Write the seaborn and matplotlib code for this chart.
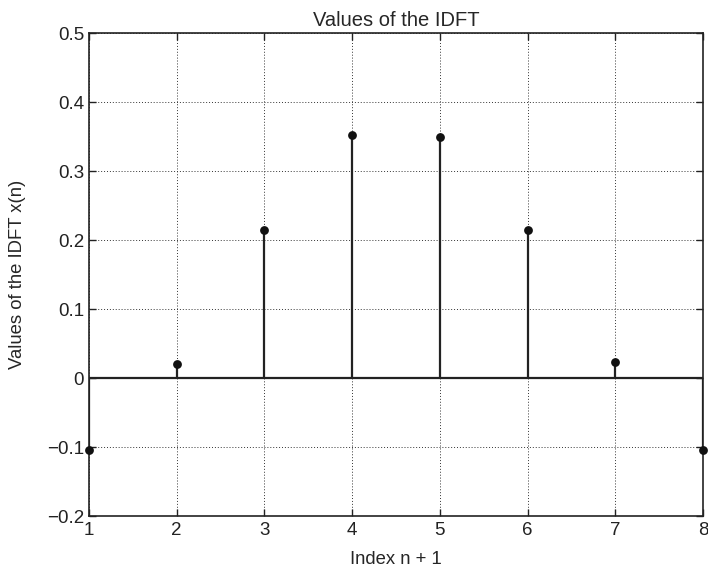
import numpy as np
import pandas as pd
import matplotlib
matplotlib.use("Agg")
import matplotlib.pyplot as plt
import seaborn as sns

# values
index = [1, 2, 3, 4, 5, 6, 7, 8]
idft_values = [-0.104, 0.021, 0.215, 0.353, 0.349, 0.215, 0.024, -0.104]
y_ticks = [-0.2, -0.1, 0, 0.1, 0.2, 0.3, 0.4, 0.5]
y_tick_labels = ["\u22120.2", "\u22120.1", "0", "0.1", "0.2", "0.3", "0.4", "0.5"]

df = pd.DataFrame({"n": index, "x": idft_values})

sns.set_style("ticks")
plt.rcParams["font.family"] = ["Liberation Sans", "DejaVu Sans"]
plt.rcParams["xtick.direction"] = "in"
plt.rcParams["ytick.direction"] = "in"

fig = plt.figure(figsize=(7.08, 5.71), dpi=100)
ax = fig.add_axes([0.1257, 0.0963, 0.8673, 0.8454])

ax.axhline(0, color="#222222", lw=1.6, zorder=2)
ax.vlines(df["n"], 0, df["x"], color="#222222", lw=1.6, zorder=3)
sns.scatterplot(data=df, x="n", y="x", ax=ax, color="#111111", s=40,
                edgecolor="#111111", linewidth=0, zorder=4, legend=False,
                clip_on=False)

ax.set_xlim(1, 8)
ax.set_ylim(-0.2, 0.5)
ax.set_xticks(index)
ax.set_yticks(y_ticks)
ax.set_yticklabels(y_tick_labels)
ax.grid(True, linestyle=(0, (1, 2)), color="#333333", lw=0.7)
ax.set_axisbelow(True)

for side in ["top", "right", "left", "bottom"]:
    ax.spines[side].set_visible(True)
    ax.spines[side].set_color("#222222")
    ax.spines[side].set_linewidth(1.2)
ax.tick_params(axis="both", labelsize=13.5, length=5, width=1,
               top=True, right=True, colors="#222222")
ax.tick_params(axis="x", pad=4)

ax.set_title("Values of the IDFT", fontsize=14.5, pad=5)
ax.set_xlabel("Index n + 1", fontsize=13.3, labelpad=9)
ax.set_ylabel("Values of the IDFT x(n)", fontsize=13.3, labelpad=15)

fig.savefig("out.png", dpi=100, facecolor="white")
